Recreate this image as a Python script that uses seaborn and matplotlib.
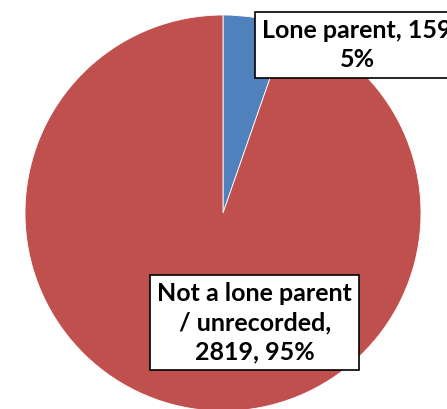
import matplotlib
matplotlib.use("Agg")
import matplotlib.pyplot as plt
import seaborn as sns

sns.set_theme(style="white")
plt.rcParams["font.family"] = ["Lato", "DejaVu Sans"]

categories = ["Lone parent", "Not a lone parent\n/ unrecorded"]
counts = [159, 2819]
percent_labels = ["5%", "95%"]
colors = ["#4F81BD", "#C0504D"]

fig = plt.figure(figsize=(4.47, 4.09), dpi=100)
ax = fig.add_axes([25 / 447, (409 - 213 - 198) / 409, 396 / 447, 396 / 409])

wedges, _ = ax.pie(
    counts,
    colors=colors,
    startangle=90,
    counterclock=False,
    radius=1.0,
    wedgeprops=dict(edgecolor="white", linewidth=0.6),
)
ax.set_xlim(-1, 1)
ax.set_ylim(-1, 1)
ax.set_aspect("equal")
ax.axis("off")

box = dict(boxstyle="square,pad=0.28", facecolor="white", edgecolor="black", linewidth=1.2)
ax.text(0.677, 0.848, f"{categories[0]}, {counts[0]}\n{percent_labels[0]}",
        ha="center", va="center", fontsize=18, fontweight="bold",
        linespacing=1.33, bbox=box, color="black")
ax.text(0.16, -0.553, f"{categories[1]},\n{counts[1]}, {percent_labels[1]}",
        ha="center", va="center", fontsize=18, fontweight="bold",
        linespacing=1.33, bbox=box, color="black")

fig.savefig("out.png", dpi=100)
